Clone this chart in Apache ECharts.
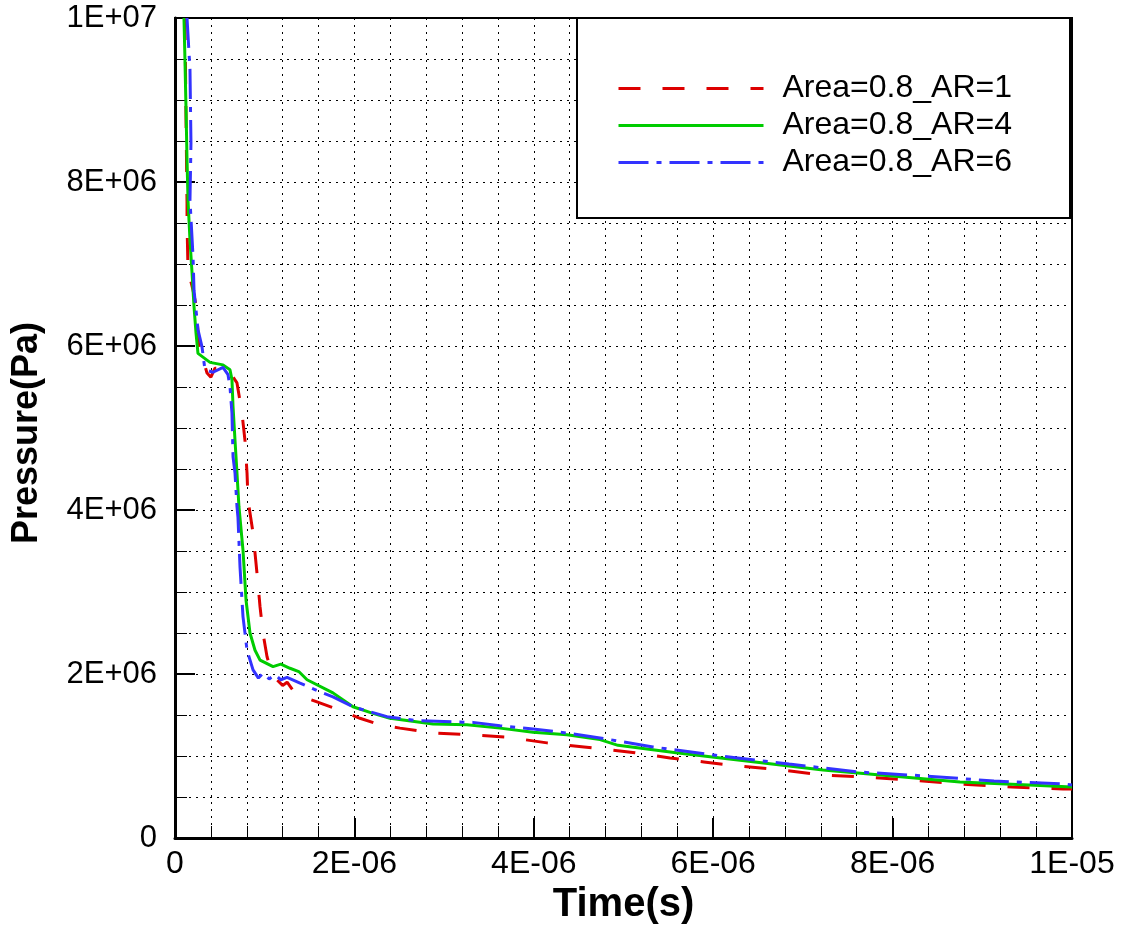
<!DOCTYPE html>
<html>
<head>
<meta charset="utf-8">
<script src="https://cdn.jsdelivr.net/npm/echarts@6/dist/echarts.min.js"></script>
<style>html,body{margin:0;padding:0;background:#fff;}#chart{width:1128px;height:930px;}</style>
</head>
<body>
<div id="chart"></div>
<script>
// time in microseconds, pressure in MPa (converted to s / Pa for plotting)
var seriesNames = ['Area=0.8_AR=1', 'Area=0.8_AR=4', 'Area=0.8_AR=6'];

var timeAR1 = [0.111,0.123,0.134,0.134,0.145,0.201,0.234,0.268,0.357,0.400,0.446,0.580,0.691,0.747,0.780,0.803,0.814,0.870,0.914,0.948,0.981,1.026,1.059,1.137,1.200,1.250,1.315,1.400,1.480,1.583,1.761,2.062,2.285,2.508,2.876,3.255,3.701,4.147,4.560,5.128,5.518,5.897,6.276,6.767,7.224,7.681,8.183,8.751,9.331,9.900,10.0];
var pressAR1 = [10.0,8.76,7.74,7.50,6.93,6.68,6.50,6.01,5.67,5.62,5.73,5.73,5.55,5.18,4.85,4.45,4.12,3.72,3.23,2.82,2.50,2.21,2.09,1.93,1.86,1.90,1.80,1.74,1.70,1.66,1.59,1.46,1.38,1.34,1.28,1.26,1.23,1.16,1.11,1.04,0.976,0.927,0.878,0.829,0.768,0.744,0.707,0.659,0.622,0.598,0.598];

var timeAR4 = [0.100,0.111,0.123,0.134,0.145,0.167,0.190,0.212,0.234,0.256,0.390,0.535,0.613,0.635,0.647,0.669,0.691,0.713,0.758,0.792,0.836,0.892,0.948,1.093,1.180,1.282,1.380,1.472,1.761,1.984,2.207,2.397,2.876,3.255,3.623,3.991,4.370,4.738,4.939,5.585,6.466,7.224,7.993,8.751,9.520,10.0];
var pressAR4 = [10.0,9.49,8.88,8.27,7.78,7.29,6.89,6.48,6.16,5.91,5.80,5.77,5.71,5.59,5.26,4.85,4.45,4.04,3.51,2.90,2.50,2.29,2.17,2.09,2.12,2.07,2.03,1.93,1.77,1.60,1.52,1.46,1.39,1.38,1.34,1.29,1.26,1.20,1.13,1.04,0.927,0.829,0.756,0.683,0.646,0.622];

var timeAR6 = [0.134,0.167,0.178,0.167,0.201,0.212,0.256,0.301,0.334,0.424,0.535,0.591,0.613,0.635,0.647,0.669,0.691,0.702,0.725,0.758,0.803,0.870,0.930,0.981,1.050,1.115,1.180,1.249,1.394,1.583,1.761,1.984,2.363,2.698,3.322,3.623,3.991,4.370,4.738,5.329,6.087,6.845,7.614,8.372,9.130,9.900,10.0];
var pressAR6 = [10.0,9.37,8.48,7.78,7.09,6.68,6.20,5.99,5.71,5.68,5.74,5.65,5.50,5.18,4.65,4.45,4.04,3.91,3.30,2.70,2.29,2.05,1.95,2.01,1.94,1.99,1.93,1.96,1.89,1.80,1.72,1.60,1.48,1.43,1.41,1.37,1.33,1.28,1.22,1.11,1.00,0.902,0.805,0.756,0.695,0.659,0.646];

var colors = ['#dd0000', '#00cc00', '#3333ff'];
var dashes = [[22, 22], 'solid', [30, 8, 5, 8]];

function pairs(ts, ps) {
  var out = [];
  for (var i = 0; i < ts.length; i++) out.push([ts[i] * 1e-6, ps[i] * 1e6]);
  return out;
}
function sci(v) {
  if (Math.abs(v) < 1e-20) return '0';
  var s = v.toExponential(0);
  var parts = s.split('e');
  var m = parts[0];
  var e = parseInt(parts[1], 10);
  var sign = e < 0 ? '-' : '+';
  var ae = Math.abs(e);
  return m + 'E' + sign + (ae < 10 ? '0' + ae : '' + ae);
}

var chart = echarts.init(document.getElementById('chart'));
var dotted = {type: [2, 5], color: '#000', width: 1};
var legendData = seriesNames.map(function (n, i) {
  return {name: n, itemStyle: {color: 'rgba(0,0,0,0)', borderWidth: 0, borderColor: 'rgba(0,0,0,0)'},
          lineStyle: {color: colors[i], width: 3, type: dashes[i]}};
});
var allSeries = [[timeAR1, pressAR1], [timeAR4, pressAR4], [timeAR6, pressAR6]].map(function (d, i) {
  return {
    name: seriesNames[i], type: 'line', symbol: 'none', z: 5 + i, data: pairs(d[0], d[1]),
    itemStyle: {color: colors[i]}, lineStyle: {color: colors[i], width: 3, type: dashes[i]}
  };
});
var option = {
  backgroundColor: '#fff',
  animation: false,
  grid: {left: 175, right: 56, top: 18, bottom: 92, show: true, borderColor: '#000', borderWidth: 2, backgroundColor: 'transparent'},
  graphic: [{
    type: 'rect', z: 3,
    shape: {x: 577, y: 18, width: 493, height: 200},
    style: {fill: '#fff', stroke: '#000', lineWidth: 2}
  }],
  legend: {
    orient: 'vertical', left: 617, top: 70, z: 10, padding: 0,
    itemWidth: 145, itemHeight: 14, itemGap: 0,
    data: legendData,
    textStyle: {fontFamily: 'Liberation Sans', fontSize: 32, color: '#000', lineHeight: 37, padding: [0, 0, 0, 14]}
  },
  xAxis: {
    type: 'value', min: 0, max: 1e-5, interval: 2e-6,
    name: 'Time(s)', nameLocation: 'middle', nameGap: 45,
    nameTextStyle: {fontFamily: 'Liberation Sans', fontWeight: 'bold', fontSize: 40, color: '#000'},
    axisLine: {show: true, onZero: false, lineStyle: {color: '#000', width: 3}},
    axisTick: {show: true, inside: true, length: 20, lineStyle: {color: '#000', width: 2}},
    minorTick: {show: true, splitNumber: 5, length: 12, lineStyle: {color: '#000', width: 1}},
    splitLine: {show: true, lineStyle: dotted},
    minorSplitLine: {show: true, lineStyle: dotted},
    axisLabel: {formatter: sci, margin: 10, fontFamily: 'Liberation Sans', fontSize: 32, color: '#000'}
  },
  yAxis: {
    type: 'value', min: 0, max: 1e7, interval: 2e6,
    name: 'Pressure(Pa)', nameLocation: 'middle', nameGap: 130,
    nameTextStyle: {fontFamily: 'Liberation Sans', fontWeight: 'bold', fontSize: 36, color: '#000', padding: [0, 10, 0, 0]},
    axisLine: {show: true, onZero: false, lineStyle: {color: '#000', width: 3}},
    axisTick: {show: true, inside: true, length: 20, lineStyle: {color: '#000', width: 2}},
    minorTick: {show: true, splitNumber: 4, length: 12, lineStyle: {color: '#000', width: 1}},
    splitLine: {show: true, lineStyle: dotted},
    minorSplitLine: {show: true, lineStyle: dotted},
    axisLabel: {formatter: sci, margin: 18, fontFamily: 'Liberation Sans', fontSize: 31, color: '#000'}
  },
  series: allSeries
};
chart.setOption(option);
</script>
</body>
</html>
